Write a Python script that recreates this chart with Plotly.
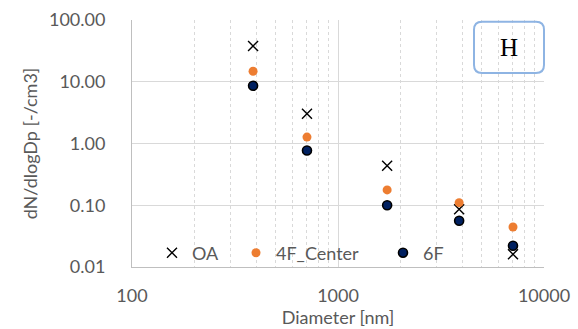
import plotly.graph_objects as go

# Particle size bins (geometric mid-diameters, nm) and number concentrations
diameter_nm = [387, 707, 1732, 3873, 7071]
oa = [37.9, 3.04, 0.437, 0.086, 0.0161]
f4_center = [14.8, 1.27, 0.177, 0.110, 0.0445]
f6 = [8.6, 0.77, 0.100, 0.056, 0.0221]

series_names = ["OA", "4F_Center", "6F"]
y_ticks = [0.01, 0.1, 1, 10, 100]
x_ticks = [100, 1000, 10000]
x_minor = [m * d for d in (100, 1000) for m in range(2, 10)]

W, H = 578, 329
ML, MR, MT, MB = 132, 34, 20, 62
PW, PH = W - ML - MR, H - MT - MB

GRAY_TXT = "#595959"
FONT = "Lato"


def px_x(p):
    return (p - ML) / PW


def px_y(p):
    return (H - MB - p) / PH


fig = go.Figure()

fig.add_trace(go.Scatter(
    x=diameter_nm, y=oa, mode="markers", name=series_names[0], legend="legend",
    marker=dict(symbol="x-thin", size=10, line=dict(width=1.4, color="#000000"), color="#000000"),
))
fig.add_trace(go.Scatter(
    x=diameter_nm, y=f4_center, mode="markers", name=series_names[1], legend="legend2",
    marker=dict(symbol="circle", size=9, color="#ED7D31", line=dict(width=0)),
))
fig.add_trace(go.Scatter(
    x=diameter_nm, y=f6, mode="markers", name=series_names[2], legend="legend3",
    marker=dict(symbol="circle", size=9, color="#002060", line=dict(width=1.6, color="#000000")),
))

legend_common = dict(
    orientation="h", yanchor="middle", xanchor="left",
    bgcolor="rgba(0,0,0,0)", font=dict(family=FONT, size=18, color=GRAY_TXT),
)
fig.update_layout(
    legend=dict(x=px_x(172 - 20), y=px_y(253), **legend_common),
    legend2=dict(x=px_x(256 - 20), y=px_y(253), **legend_common),
    legend3=dict(x=px_x(403 - 20), y=px_y(253), **legend_common),
)

# Rounded label box in the upper-right corner
x0, x1 = px_x(474), px_x(544)
y0, y1 = px_y(73), px_y(21.7)
rx, ry = 8 / PW, 8 / PH
path = (
    f"M {x0 + rx},{y1} L {x1 - rx},{y1} Q {x1},{y1} {x1},{y1 - ry} "
    f"L {x1},{y0 + ry} Q {x1},{y0} {x1 - rx},{y0} "
    f"L {x0 + rx},{y0} Q {x0},{y0} {x0},{y0 + ry} "
    f"L {x0},{y1 - ry} Q {x0},{y1} {x0 + rx},{y1} Z"
)
fig.add_shape(type="path", path=path, xref="paper", yref="paper",
              line=dict(color="#8EB4E3", width=2), fillcolor="rgba(0,0,0,0)")
fig.add_annotation(text="H", x=(x0 + x1) / 2, y=px_y(48), xref="paper", yref="paper",
                   xanchor="center", yanchor="middle",
                   showarrow=False, font=dict(family="Liberation Serif", size=25, color="#000000"))

fig.update_xaxes(
    type="log", range=[2, 4],
    tickvals=x_ticks, ticktext=[str(v) for v in x_ticks],
    ticks="outside", ticklen=12, tickcolor="rgba(0,0,0,0)",
    tickfont=dict(family=FONT, size=18, color=GRAY_TXT),
    showgrid=True, gridcolor="#D9D9D9", gridwidth=1,
    minor=dict(tickvals=x_minor, showgrid=True, gridcolor="#D9D9D9", griddash="dot", gridwidth=1),
    showline=True, linecolor="#BFBFBF", linewidth=1, mirror=False,
    zeroline=False,
    title=dict(text="Diameter [nm]", font=dict(family=FONT, size=18, color=GRAY_TXT), standoff=0),
)
fig.update_yaxes(
    type="log", range=[-2, 2],
    tickvals=y_ticks, ticktext=[f"{v:.2f}" for v in y_ticks],
    ticks="outside", ticklen=22, tickcolor="rgba(0,0,0,0)",
    tickfont=dict(family=FONT, size=18, color=GRAY_TXT),
    showgrid=True, gridcolor="#D9D9D9", gridwidth=1,
    showline=True, linecolor="#BFBFBF", linewidth=1,
    zeroline=False,
    title=dict(text="dN/dlogDp [-/cm3]", font=dict(family=FONT, size=18, color=GRAY_TXT), standoff=6),
)

fig.update_layout(
    width=W, height=H,
    margin=dict(l=ML, r=MR, t=MT, b=MB, autoexpand=False),
    paper_bgcolor="#FFFFFF", plot_bgcolor="#FFFFFF",
    showlegend=True,
)

fig.write_html("out.html")
